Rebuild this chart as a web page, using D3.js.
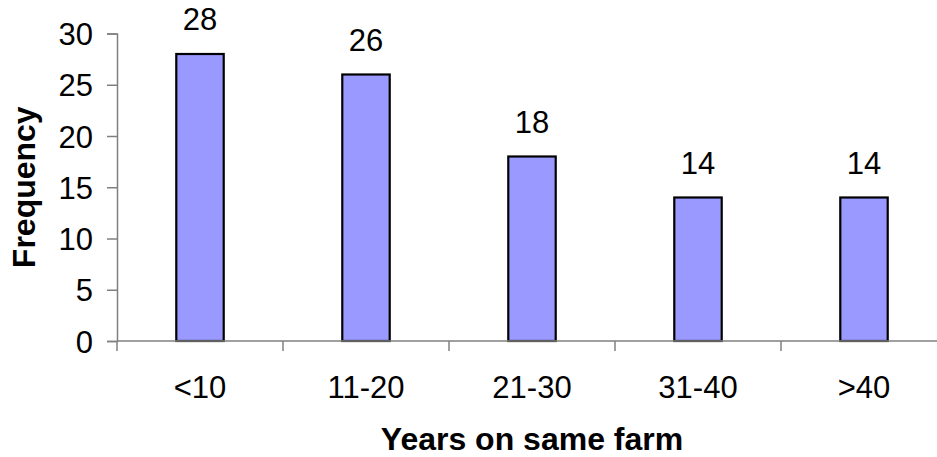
<!DOCTYPE html>
<html>
<head>
<meta charset="utf-8">
<script src="https://cdn.jsdelivr.net/npm/d3@7"></script>
<style>
  html, body { margin: 0; padding: 0; background: #fff; }
  svg { display: block; font-family: "Liberation Sans", Arial, sans-serif; }
</style>
</head>
<body>
<svg id="chart" width="937" height="457"></svg>
<script>
// Years a farmer has worked the same farm, and how many farmers fall in each range
const categories = ["<10", "11-20", "21-30", "31-40", ">40"];
const frequencies = [28, 26, 18, 14, 14];
const yTicks = [0, 5, 10, 15, 20, 25, 30];

const svg = d3.select("#chart");
const margin = { left: 117, top: 33.5, bottom: 116 };
const bandWidth = 166;
const plotRight = margin.left + bandWidth * categories.length;
const plotBottom = 457 - margin.bottom;
const labelSize = 31;
const titleSize = 32;

const x = d3.scaleBand()
  .domain(categories)
  .range([margin.left, plotRight])
  .paddingInner(0)
  .paddingOuter(0);

const y = d3.scaleLinear()
  .domain([0, 30])
  .range([plotBottom, margin.top]);

const barW = x.bandwidth() / 3.5;

// Bars
svg.append("g")
  .selectAll("rect")
  .data(frequencies)
  .join("rect")
  .attr("x", (d, i) => x(categories[i]) + (x.bandwidth() - barW) / 2)
  .attr("y", d => y(d))
  .attr("width", barW)
  .attr("height", d => y(0) - y(d))
  .attr("fill", "#9999ff")
  .attr("stroke", "#000")
  .attr("stroke-width", 2.2);

// Y axis
const yAxis = svg.append("g")
  .attr("transform", `translate(${margin.left},0)`)
  .call(d3.axisLeft(y).tickValues(yTicks).tickSize(10).tickPadding(14).tickFormat(d3.format("d")));
yAxis.select(".domain").attr("stroke", "#808080").attr("stroke-width", 1.5);
yAxis.selectAll(".tick line").attr("stroke", "#808080").attr("stroke-width", 1.5);
yAxis.selectAll(".tick text")
  .attr("font-size", labelSize)
  .attr("font-family", "Liberation Sans, Arial, sans-serif")
  .attr("fill", "#000")
  .attr("dy", "0.36em");

// X axis: ticks at category boundaries, labels centred under each bar
const xAxisG = svg.append("g").attr("transform", `translate(0,${plotBottom})`);
xAxisG.append("line")
  .attr("x1", margin.left).attr("x2", plotRight)
  .attr("stroke", "#808080").attr("stroke-width", 1.5);
const boundaries = categories.map(c => x(c)).concat([plotRight]);
xAxisG.selectAll("line.tick")
  .data(boundaries)
  .join("line")
  .attr("class", "tick")
  .attr("x1", d => d).attr("x2", d => d)
  .attr("y1", 0).attr("y2", 10)
  .attr("stroke", "#808080").attr("stroke-width", 1.5);
xAxisG.selectAll("text")
  .data(categories)
  .join("text")
  .attr("x", d => x(d) + x.bandwidth() / 2)
  .attr("y", 57)
  .attr("text-anchor", "middle")
  .attr("font-size", labelSize)
  .attr("fill", "#000")
  .text(d => d);

// Value labels above bars
svg.append("g")
  .selectAll("text")
  .data(frequencies)
  .join("text")
  .attr("x", (d, i) => x(categories[i]) + x.bandwidth() / 2)
  .attr("y", d => y(d) - 24)
  .attr("text-anchor", "middle")
  .attr("font-size", labelSize)
  .attr("fill", "#000")
  .text(d => d);

// Axis titles
svg.append("text")
  .attr("x", (margin.left + plotRight) / 2)
  .attr("y", 450)
  .attr("text-anchor", "middle")
  .attr("font-size", titleSize)
  .attr("font-weight", "bold")
  .attr("fill", "#000")
  .text("Years on same farm");

svg.append("text")
  .attr("transform", `translate(35,${(margin.top + plotBottom) / 2}) rotate(-90)`)
  .attr("text-anchor", "middle")
  .attr("font-size", titleSize)
  .attr("font-weight", "bold")
  .attr("fill", "#000")
  .text("Frequency");
</script>
</body>
</html>
